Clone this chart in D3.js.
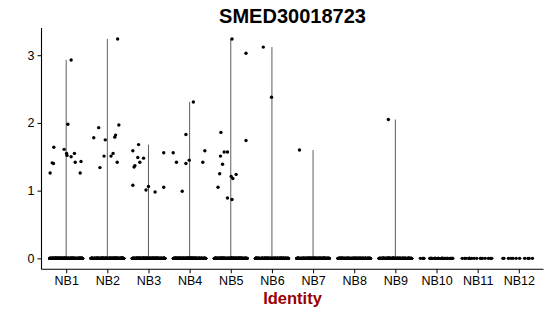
<!DOCTYPE html>
<html>
<head>
<meta charset="utf-8">
<script src="https://cdn.jsdelivr.net/npm/d3@7"></script>
<style>
  body { margin: 0; background: #fff; }
  text { font-family: "Liberation Sans", Arial, sans-serif; }
</style>
</head>
<body>
<div id="chart"></div>
<script>
const title = "SMED30018723"
const identities = ["NB1", "NB2", "NB3", "NB4", "NB5", "NB6", "NB7", "NB8", "NB9", "NB10", "NB11", "NB12"]
const yTicks = [0, 1, 2, 3]

// cells with zero expression per identity
const zeroCounts = [300, 300, 300, 300, 300, 260, 260, 220, 220, 40, 18, 11]

// expressing cells: [identity, value, jitter (in category units)]
const expressed = [
    ["NB1", 1.64, -0.30], ["NB1", 1.41, -0.34], ["NB1", 1.40, -0.31], ["NB1", 1.26, -0.39],
    ["NB1", 1.98, 0.04], ["NB1", 1.61, -0.05], ["NB1", 1.55, 0.01], ["NB1", 1.52, 0.02],
    ["NB1", 1.50, 0.12], ["NB1", 1.55, 0.20], ["NB1", 1.42, 0.22], ["NB1", 1.43, 0.36],
    ["NB1", 1.26, 0.34], ["NB1", 2.93, 0.12],
    ["NB2", 1.78, -0.33], ["NB2", 1.93, -0.21], ["NB2", 1.34, -0.18], ["NB2", 1.75, -0.05],
    ["NB2", 1.51, -0.08], ["NB2", 1.51, 0.09], ["NB2", 1.55, 0.14], ["NB2", 1.79, 0.18],
    ["NB2", 1.82, 0.20], ["NB2", 1.97, 0.28], ["NB2", 1.42, 0.24], ["NB2", 3.24, 0.25],
    ["NB3", 1.59, -0.38], ["NB3", 1.68, -0.24], ["NB3", 1.49, -0.26], ["NB3", 1.42, -0.21],
    ["NB3", 1.48, -0.12], ["NB3", 1.35, -0.35], ["NB3", 1.37, -0.33], ["NB3", 1.08, -0.38],
    ["NB3", 1.01, -0.06], ["NB3", 1.06, 0.00], ["NB3", 0.98, 0.16], ["NB3", 1.56, 0.37],
    ["NB3", 1.05, 0.37],
    ["NB4", 1.56, -0.40], ["NB4", 1.42, -0.32], ["NB4", 0.99, -0.18], ["NB4", 1.83, -0.09],
    ["NB4", 1.40, -0.09], ["NB4", 1.45, -0.01], ["NB4", 1.42, 0.32], ["NB4", 1.59, 0.37],
    ["NB4", 2.31, 0.09],
    ["NB5", 1.86, -0.24], ["NB5", 1.51, -0.25], ["NB5", 1.57, -0.16], ["NB5", 1.57, -0.08],
    ["NB5", 1.39, -0.20], ["NB5", 1.25, -0.27], ["NB5", 1.05, -0.31], ["NB5", 0.89, -0.08],
    ["NB5", 0.87, 0.03], ["NB5", 1.21, 0.01], ["NB5", 1.18, 0.05], ["NB5", 1.24, 0.13],
    ["NB5", 1.74, 0.37], ["NB5", 3.24, 0.03], ["NB5", 3.03, 0.37],
    ["NB6", 3.12, -0.21], ["NB6", 2.38, -0.01],
    ["NB7", 1.60, -0.33],
    ["NB9", 2.05, -0.17]
]

const width = 550, height = 316
const margin = { top: 28, right: 6.5, bottom: 46.7, left: 41.5 }

const svg = d3.select("#chart").append("svg")
    .attr("width", width)
    .attr("height", height)

const maxVal = d3.max(expressed, d => d[1])
const pad = maxVal * 0.05

const x = d3.scalePoint()
    .domain(identities)
    .range([margin.left, width - margin.right])
    .padding(0.6)
const step = x.step()

const y = d3.scaleLinear()
    .domain([-pad, maxVal + pad])
    .range([height - margin.bottom, margin.top])

// violins collapse to a line from 0 up to the highest value
let violins = identities.map(id => {
    let vals = expressed.filter(d => d[0] == id).map(d => d[1])
    return { id: id, max: vals.length ? d3.max(vals) : 0 }
}).filter(d => d.max > 0)

svg.append("g")
    .selectAll("path")
    .data(violins)
    .enter()
    .append("path")
    .attr("fill", "none")
    .attr("stroke", "#333")
    .attr("stroke-width", 0.8)
    .attr("d", d => d3.line()
        .x(() => x(d.id))
        .y(v => y(v))([0, d.max]))

// zero cells, jittered horizontally (seeded so the picture is stable)
let rand = d3.randomUniform.source(d3.randomLcg(0.42))(-0.4, 0.4)
let zeros = []
identities.forEach((id, i) => {
    for (let k = 0; k < zeroCounts[i]; k++) zeros.push({ id: id, j: rand() })
})

let points = svg.append("g").attr("class", "points")

points.selectAll("circle.zero")
    .data(zeros)
    .enter()
    .append("circle")
    .attr("class", "zero")
    .attr("cx", d => x(d.id) + d.j * step)
    .attr("cy", y(0))
    .attr("r", 1.7)
    .attr("fill", "black")

points.selectAll("circle.expr")
    .data(expressed)
    .enter()
    .append("circle")
    .attr("class", "expr")
    .attr("cx", d => x(d[0]) + d[2] * step)
    .attr("cy", d => y(d[1]))
    .attr("r", 1.7)
    .attr("fill", "black")

// axes
let xAxis = svg.append("g")
    .attr("transform", `translate(0,${height - margin.bottom})`)
    .call(d3.axisBottom(x).tickSize(4).tickPadding(3))
xAxis.select(".domain").attr("d", `M${margin.left},0H${width - margin.right}`).attr("stroke-width", 1.1)
xAxis.selectAll("text").attr("font-size", 12.5).attr("fill", "black")

let yAxis = svg.append("g")
    .attr("transform", `translate(${margin.left},0)`)
    .call(d3.axisLeft(y).tickValues(yTicks).tickFormat(d3.format("d")).tickSize(4).tickPadding(3))
yAxis.select(".domain").attr("d", `M0,${margin.top}V${height - margin.bottom}`).attr("stroke-width", 1.1)
yAxis.selectAll("text").attr("font-size", 12.5).attr("fill", "black")

svg.append("text")
    .attr("x", (margin.left + width - margin.right) / 2)
    .attr("y", 22.5)
    .attr("text-anchor", "middle")
    .attr("font-size", 20)
    .attr("font-weight", "bold")
    .text(title)

svg.append("text")
    .attr("x", (margin.left + width - margin.right) / 2)
    .attr("y", 304)
    .attr("text-anchor", "middle")
    .attr("font-size", 16.5)
    .attr("font-weight", "bold")
    .attr("fill", "#990000")
    .text("Identity")
</script>
</body>
</html>
